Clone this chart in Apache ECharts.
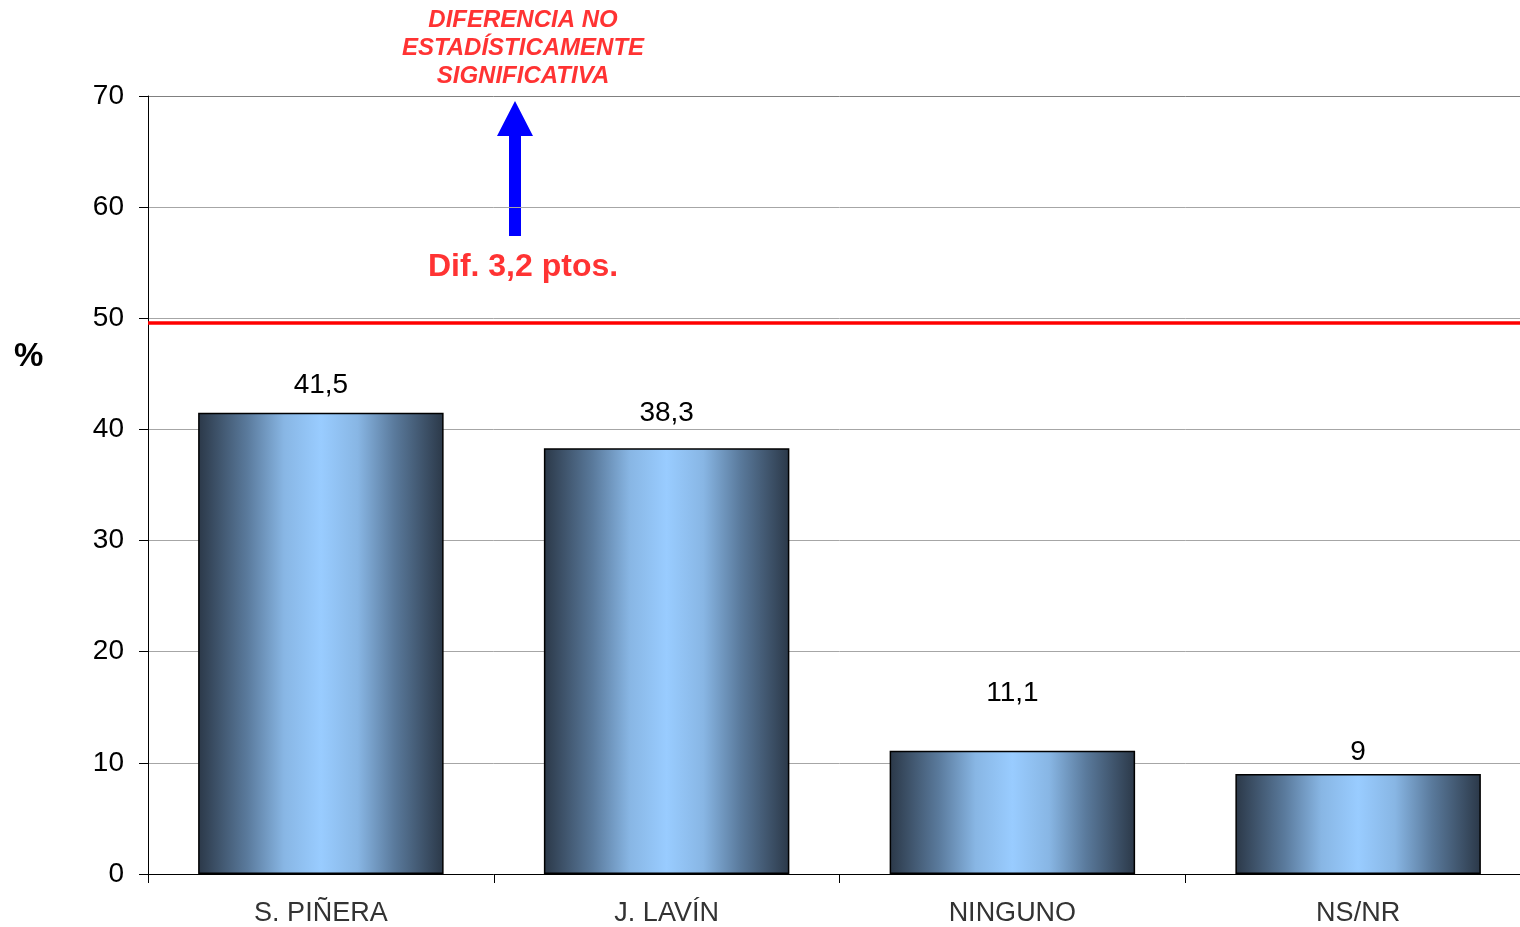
<!DOCTYPE html>
<html>
<head>
<meta charset="utf-8">
<title>Chart</title>
<script src="https://cdn.jsdelivr.net/npm/echarts@6/dist/echarts.min.js"></script>
<style>
  html, body { margin: 0; padding: 0; background: #fff; overflow: hidden; }
  /* plot runs slightly past the right edge of the window, as in the original */
  #chart { width: 1531px; height: 927px; }
</style>
</head>
<body>
<div id="chart"></div>
<script>
const categories = ['S. PIÑERA', 'J. LAVÍN', 'NINGUNO', 'NS/NR']
const values = [41.5, 38.3, 11.1, 9]
const valueLabels = ['41,5', '38,3', '11,1', '9']
const yTicks = [0, 10, 20, 30, 40, 50, 60, 70]
const thresholdLine = 49.6

const font = '"Liberation Sans", Arial, sans-serif'

// labels in the original sit at slightly different heights above each bar
const labelGap = [13, 21, 43, 8]

const barGradient = {
  type: 'linear', x: 0, y: 0, x2: 1, y2: 0,
  colorStops: [
    { offset: 0, color: '#2b3848' },
    { offset: 0.2, color: '#5a7a9c' },
    { offset: 0.35, color: '#88b6e4' },
    { offset: 0.5, color: '#99ccff' },
    { offset: 0.65, color: '#88b6e4' },
    { offset: 0.8, color: '#5a7a9c' },
    { offset: 1, color: '#2b3848' }
  ]
}

const chart = echarts.init(document.getElementById('chart'))

chart.setOption({
  animation: false,
  grid: {
    left: 148,
    right: 0,
    top: 96,
    bottom: 53
  },
  xAxis: {
    type: 'category',
    data: categories,
    axisLine: { lineStyle: { color: '#000', width: 1 } },
    axisTick: { show: true, length: 9, lineStyle: { color: '#000' } },
    axisLabel: {
      color: '#333',
      fontFamily: font,
      fontSize: 27,
      margin: 26
    }
  },
  yAxis: {
    type: 'value',
    min: yTicks[0],
    max: yTicks[yTicks.length - 1],
    interval: 10,
    axisLine: { show: true, lineStyle: { color: '#000', width: 1 } },
    axisTick: { show: true, length: 9, lineStyle: { color: '#000' } },
    axisLabel: {
      color: '#000',
      fontFamily: font,
      fontSize: 28,
      margin: 24
    },
    splitLine: {
      lineStyle: {
        color: yTicks.map((t, i) => i === yTicks.length - 1 ? '#808080' : '#a6a6a6'),
        width: 1
      }
    }
  },
  series: [
    {
      type: 'bar',
      barWidth: '71%',
      data: values.map((v, i) => ({
        value: v,
        label: { distance: labelGap[i] }
      })),
      itemStyle: {
        color: barGradient,
        borderColor: '#000',
        borderWidth: 1.5
      },
      label: {
        show: true,
        position: 'top',
        color: '#000',
        fontFamily: font,
        fontSize: 28,
        formatter: p => valueLabels[p.dataIndex]
      },
      markLine: {
        silent: true,
        symbol: 'none',
        label: { show: false },
        lineStyle: { color: '#ff0000', width: 3.5, type: 'solid' },
        data: [{ yAxis: thresholdLine }]
      }
    }
  ],
  graphic: [
    {
      type: 'text',
      left: 14,
      top: 340,
      style: {
        text: '%',
        fill: '#000',
        font: 'bold 33px ' + font
      }
    },
    {
      type: 'text',
      x: 523,
      y: 6,
      style: {
        text: 'DIFERENCIA NO\nESTADÍSTICAMENTE\nSIGNIFICATIVA',
        fill: '#ff3333',
        font: 'italic bold 24px ' + font,
        lineHeight: 28,
        align: 'center'
      }
    },
    {
      type: 'text',
      x: 523,
      y: 251,
      style: {
        text: 'Dif. 3,2 ptos.',
        fill: '#ff3333',
        font: 'bold 32px ' + font,
        align: 'center'
      }
    },
    {
      type: 'polygon',
      shape: {
        points: [
          [509, 236], [521, 236], [521, 136], [533, 136],
          [515, 101], [497, 136], [509, 136]
        ]
      },
      style: { fill: '#0000ff' }
    }
  ]
})
</script>
</body>
</html>
